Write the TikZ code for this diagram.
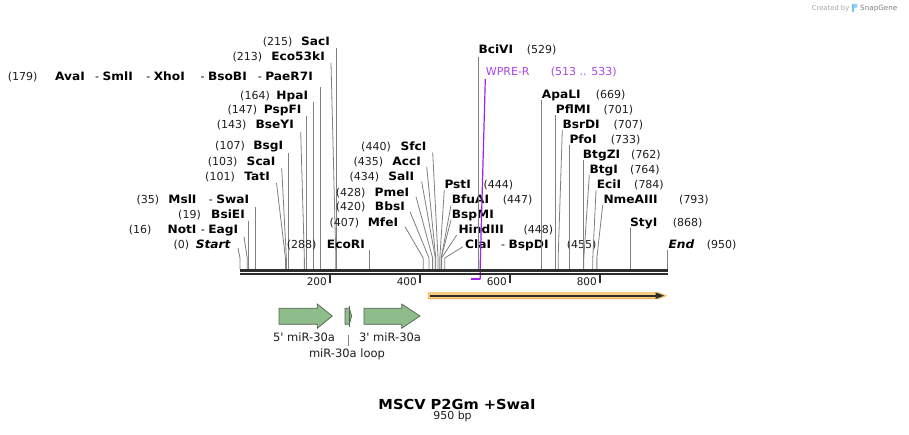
\documentclass[tikz,border=0pt]{standalone}
\usepackage{fontspec}
\setmainfont{DejaVu Sans}
\newfontfamily\nmfont{DejaVu Sans}[FakeStretch=1.06]
\definecolor{cutc}{RGB}{128,128,128}
\definecolor{rulec}{RGB}{45,45,45}
\definecolor{purp}{RGB}{160,32,240}
\definecolor{purptext}{RGB}{170,70,230}
\definecolor{featg}{RGB}{143,188,139}
\definecolor{featedge}{RGB}{80,100,80}
\definecolor{orband}{RGB}{250,205,130}
\definecolor{oredge}{RGB}{245,180,80}
\definecolor{numc}{RGB}{30,30,30}
\definecolor{logoc}{RGB}{110,195,235}
\newcommand{\bnm}[1]{{\nmfont\fontsize{11.5}{13}\selectfont\bfseries #1}}
\newcommand{\lsite}[9]{%
 \node[numsty,anchor=base east] (n#1) at (#3,#6) {#2};
 \node[namesty,anchor=base east] (m#1) at (#5,#6) {#4};
 \coordinate (a#1) at (#7,#8);
 \coordinate (b#1) at (#9,258);
 \coordinate (s#1) at (#9,269);
 \draw[cutline] (a#1) -- (b#1) -- (s#1);}
\newcommand{\rsite}[9]{%
 \node[namesty,anchor=base west] (m#1) at (#3,#6) {#2};
 \node[numsty,anchor=base west] (n#1) at (#5,#6) {#4};
 \coordinate (a#1) at (#7,#8);
 \coordinate (b#1) at (#9,258);
 \coordinate (s#1) at (#9,269);
 \draw[cutline] (a#1) -- (b#1) -- (s#1);}
\tikzset{
 numsty/.style={font=\fontsize{11}{13}\selectfont, inner sep=0pt, text=numc},
 namesty/.style={font=\nmfont\fontsize{11.5}{13}\selectfont\bfseries, inner sep=0pt},
 sepsty/.style={font=\fontsize{11}{13}\selectfont, inner sep=0pt},
 cutline/.style={draw=cutc, line width=0.8pt},
 featsty/.style={fill=featg, draw=featedge, line width=0.7pt, line join=miter},
 flabel/.style={font=\fontsize{11.5}{13}\selectfont, inner sep=0pt, text=numc},
 ticklab/.style={font=\fontsize{10.5}{12}\selectfont, inner sep=0pt, text=numc, anchor=base east},
}
\begin{document}
\begin{tikzpicture}[x=1pt,y=-1pt]
\useasboundingbox (0,0) rectangle (909,435);
\fill[white] (0,0) rectangle (909,435);

% ---- left-side labels
\lsite{SacI}{(215)}{292.7}{SacI}{330}{45.5}{336.75}{48}{336.75}
\lsite{Eco}{(213)}{262.3}{Eco53kI}{325}{60.7}{331}{63}{335.85}
% AvaI row
\node[numsty,anchor=base east] (nAva) at (37.7,81) {(179)};
\node[namesty,anchor=base east] (mAva) at (85,81) {AvaI};
\node[sepsty,anchor=base east] (mSml) at (133,81) {- \bnm{SmlI}};
\node[sepsty,anchor=base east] (mXho) at (185,81) {- \bnm{XhoI}};
\node[sepsty,anchor=base east] (mBso) at (247,81) {- \bnm{BsoBI}};
\node[sepsty,anchor=base east] (mPae) at (313,81) {- \bnm{PaeR7I}};
\coordinate (aAva) at (320.55,87);
\coordinate (sAva) at (320.55,269);
\draw[cutline] (aAva) -- (sAva);
\lsite{HpaI}{(164)}{270}{HpaI}{308.3}{100}{313.8}{102}{313.8}
\lsite{PspFI}{(147)}{257.3}{PspFI}{301.7}{114}{306.15}{116}{306.15}
\lsite{BseYI}{(143)}{246.7}{BseYI}{294}{129}{300.7}{132}{304.35}
\lsite{BsgI}{(107)}{245}{BsgI}{283.3}{150}{288.15}{153}{288.15}
\lsite{ScaI}{(103)}{237.7}{ScaI}{275.7}{165.5}{281.7}{168}{286.35}
\lsite{TatI}{(101)}{235}{TatI}{270}{180.5}{276.5}{183}{285.45}
% MslI - SwaI
\node[numsty,anchor=base east] (nMsl) at (159.3,204) {(35)};
\node[namesty,anchor=base east] (mMsl) at (196.7,204) {MslI};
\node[sepsty,anchor=base east] (mSwa) at (249.3,204) {- \bnm{SwaI}};
\coordinate (aMsl) at (255.75,207);
\coordinate (sMsl) at (255.75,269);
\draw[cutline] (aMsl) -- (sMsl);
\lsite{BsiEI}{(19)}{201}{BsiEI}{245}{219}{248.55}{221}{248.55}
% NotI - EagI
\node[numsty,anchor=base east] (nNot) at (151.7,233.3) {(16)};
\node[namesty,anchor=base east] (mNot) at (196.7,233.3) {NotI};
\node[sepsty,anchor=base east] (mEag) at (238.3,233.3) {- \bnm{EagI}};
\coordinate (aNot) at (244,236.7);
\coordinate (bNot) at (247.2,258);
\coordinate (sNot) at (247.2,269);
\draw[cutline] (aNot) -- (bNot) -- (sNot);
\lsite{Start}{(0)}{189.3}{\itshape Start}{230.7}{249}{238}{248}{240}
\lsite{EcoRI}{(288)}{316.7}{EcoRI}{365}{248.5}{369.6}{250}{369.6}

% ---- middle-left cluster
\lsite{SfcI}{(440)}{391}{SfcI}{426.7}{150.7}{432.7}{152.3}{438}
\lsite{AccI}{(435)}{383.3}{AccI}{421}{165.7}{426.7}{166.7}{435.75}
\lsite{SalI}{(434)}{379.3}{SalI}{414.3}{180.7}{421.7}{181.7}{435.3}
\lsite{PmeI}{(428)}{365.7}{PmeI}{409.3}{196.3}{416}{196.7}{432.6}
\lsite{BbsI}{(420)}{365.7}{BbsI}{405}{210.7}{410}{211.7}{429}
\lsite{MfeI}{(407)}{359.3}{MfeI}{398.3}{226.3}{405}{226.7}{423.15}

% ---- middle-right cluster
\rsite{PstI}{PstI}{444.3}{(444)}{483.3}{188.3}{444.3}{190}{439.8}
\rsite{BfuAI}{BfuAI}{451.7}{(447)}{502.7}{204}{451}{205.5}{441.15}
\rsite{BspMI}{BspMI}{451.7}{}{500}{218.3}{451}{220}{441.15}
\rsite{HindIII}{HindIII}{458.3}{(448)}{523.3}{233.3}{456.7}{235}{441.6}
% ClaI - BspDI
\node[namesty,anchor=base west] (mCla) at (465,248.3) {ClaI};
\node[sepsty,anchor=base west] (mBspD) at (501,248.3) {- \bnm{BspDI}};
\node[numsty,anchor=base west] (nCla) at (566.7,248.3) {(455)};
\coordinate (aCla) at (463,246.7);
\coordinate (bCla) at (444.75,258);
\coordinate (sCla) at (444.75,269);
\draw[cutline] (aCla) -- (bCla) -- (sCla);

% ---- top
\rsite{BciVI}{BciVI}{478.3}{(529)}{526.7}{53.3}{478.05}{57}{478.05}

% ---- right cluster
\rsite{ApaLI}{ApaLI}{541.7}{(669)}{595.7}{99}{541.05}{100}{541.05}
\rsite{PflMI}{PflMI}{555.7}{(701)}{603.3}{114}{555.45}{115}{555.45}
\rsite{BsrDI}{BsrDI}{562.3}{(707)}{613.3}{129}{562.3}{130}{558.15}
\rsite{PfoI}{PfoI}{569.3}{(733)}{610.7}{144}{569.85}{145}{569.85}
\rsite{BtgZI}{BtgZI}{582.7}{(762)}{631}{159}{582.9}{160}{582.9}
\rsite{BtgI}{BtgI}{589.3}{(764)}{630}{174}{589.3}{175}{583.8}
\rsite{EciI}{EciI}{596.7}{(784)}{634}{189}{596}{190}{592.8}
\rsite{NmeAIII}{NmeAIII}{603.3}{(793)}{679}{204}{602.7}{205}{596.85}
\rsite{StyI}{StyI}{630}{(868)}{672.7}{226.7}{630.6}{228}{630.6}
\rsite{End}{\itshape End}{668.3}{(950)}{706.7}{249}{667.5}{250}{667.5}

% ---- primer WPRE-R
\node[font=\fontsize{11}{13}\selectfont, inner sep=0pt, text=purptext, anchor=base west] (mWPRE) at (485.7,75.5) {WPRE-R};
\node[font=\fontsize{11}{13}\selectfont, inner sep=0pt, text=purptext, anchor=base west] (nWPRE) at (550.7,75.5) {(513 .. 533)};
\coordinate (aWPRE) at (485.3,79);
\coordinate (bWPRE) at (480.3,262);
\coordinate (sWPRE) at (480.3,279.3);
\coordinate (eWPRE) at (470.85,279.3);
\draw[purp, line width=1.2pt] (aWPRE) -- (bWPRE) -- (sWPRE);
\draw[purp, line width=2pt] (sWPRE) -- (eWPRE);

% ---- ruler
\coordinate (r0) at (240,270.3);
\coordinate (r1) at (668,270.3);
\coordinate (q0) at (240,273.9);
\coordinate (q1) at (668,273.9);
\draw[rulec, line width=2.7pt] (r0) -- (r1);
\draw[rulec, line width=2.2pt] (q0) -- (q1);
\foreach \xx/\lab in {330/200,420/400,510/600,600/800}{
  \draw[rulec, line width=1.6pt] (\xx,275) -- (\xx,283.3);
  \node[ticklab] at (\xx-3,285) {\lab};
}

% ---- orange feature
\fill[orband, draw=oredge, line width=0.8pt] (428.3,292.8) -- (659,292.8) -- (666,295.7) -- (659,298.6) -- (428.3,298.6) -- cycle;
\draw[rulec, line width=2pt] (430,295.7) -- (657,295.7);
\fill[rulec] (655.5,292.4) -- (664,295.7) -- (655.5,299) -- cycle;

% ---- green features
\draw[featsty] (279,308.3) -- (317.3,308.3) -- (317.3,304) -- (332.3,316) -- (317.3,328.3) -- (317.3,324.3) -- (279,324.3) -- cycle;
\draw[featsty] (364,308.3) -- (401.7,308.3) -- (401.7,304) -- (420,316) -- (401.7,328.3) -- (401.7,324.3) -- (364,324.3) -- cycle;
\draw[featsty] (345,308.3) -- (349.3,308.3) -- (351.7,316) -- (349.3,324.3) -- (345,324.3) -- cycle;
\draw[featedge, line width=0.8pt] (349.3,306) -- (349.3,327);
\node[flabel, anchor=base] (f5) at (304,341.5) {5\textquotesingle{} miR-30a};
\node[flabel, anchor=base] (f3) at (390,341.5) {3\textquotesingle{} miR-30a};
\node[flabel, anchor=base] (floop) at (347,357.5) {miR-30a loop};
\draw[cutc, line width=0.7pt] (348.3,335) -- (348.3,346);

% ---- title
\node[font=\nmfont\fontsize{13.8}{16}\selectfont\bfseries, inner sep=0pt, anchor=base] (title) at (457,409.5) {MSCV P2Gm +SwaI};
\node[font=\fontsize{11}{13}\selectfont, inner sep=0pt, anchor=base, text=numc] (bp) at (452.5,419.5) {950 bp};

% ---- credit
\node[font=\fontsize{6.8}{8}\selectfont, inner sep=0pt, text=black!35, anchor=base west] (cb) at (811.7,10.8) {Created by};
\fill[logoc] (852,3.6) rectangle (853.9,11.8);
\fill[logoc!75, rounded corners=1.2pt] (853.9,3.6) rectangle (857.3,8.2);
\node[font=\fontsize{7.2}{8}\selectfont, inner sep=0pt, text=black!50, anchor=base west] (sg) at (860,10.8) {SnapGene};
\end{tikzpicture}
\end{document}
